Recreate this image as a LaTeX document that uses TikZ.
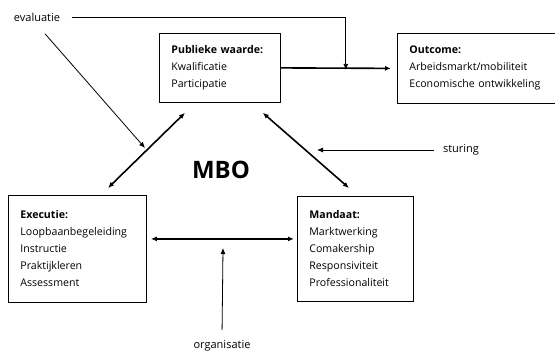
\documentclass[tikz,border=0pt]{standalone}
\usepackage{fontspec}
\setmainfont{Open Sans}
\usetikzlibrary{arrows.meta}
\tikzset{
  box/.style={draw, line width=0.8pt, align=left, inner xsep=12pt, anchor=north west,
    font=\fontsize{10.6}{17}\selectfont},
  lbl/.style={font=\fontsize{11}{12}\selectfont},
  thin/.style={line width=0.8pt, -{Latex[length=6pt,width=5pt]}},
  thick/.style={line width=1.6pt, -{Latex[length=6pt,width=5pt]}},
  dbl/.style={line width=1.6pt, {Latex[length=6pt,width=5pt]}-{Latex[length=6pt,width=5pt]}}
}
\begin{document}
\begin{tikzpicture}[x=1pt,y=-1pt]
      \useasboundingbox (0,0) rectangle (555,353);
      \node[box, minimum width=121pt, minimum height=69pt, text width=97pt] (pw) at (159,33)
        {\textbf{Publieke waarde:}\\Kwalificatie\\Participatie};
      \node[box, minimum width=156pt, minimum height=70pt, text width=136pt] (oc) at (397,33)
        {\textbf{Outcome:}\\Arbeidsmarkt/mobiliteit\\Economische ontwikkeling};
      \node[box, minimum width=138pt, minimum height=107pt, text width=114pt] (ex) at (8,195)
        {\textbf{Executie:}\\Loopbaanbegeleiding\\Instructie\\Praktijkleren\\Assessment};
      \node[box, minimum width=116pt, minimum height=105pt, text width=92pt] (md) at (297,196)
        {\textbf{Mandaat:}\\Marktwerking\\Comakership\\Responsiviteit\\Professionaliteit};
      \node[font=\fontsize{24}{30}\selectfont\bfseries] (mbo) at (221,170) {MBO};
      \node[lbl] (ev) at (37,17) {evaluatie};
      \node[lbl] (st) at (461,150) {sturing};
      \node[lbl] (org) at (222,346) {organisatie};
      \coordinate (evend) at (145,148);
      \coordinate (stend) at (317,150);
      \coordinate (orgend) at (223,248);
      \begin{scope}
        \draw[thick, shorten >=6pt] (pw.east) -- (oc.west);
        \draw[thin, shorten <=8pt, shorten >=1pt] (ev.east) -| ([xshift=65pt,yshift=-3pt]pw.east);
        \draw[thin] ([shift={(8,9)}]ev.south) -- (evend);
        \draw[thin, shorten <=6pt] (st.west) -- (stend);
        \draw[thin, shorten <=7pt] (org.north) -- (orgend);
        \draw[dbl] ([shift={(26,10)}]pw.south west) -- ([shift={(100,-7)}]ex.north west);
        \draw[dbl] ([shift={(-18,10)}]pw.south east) -- ([shift={(52,-8)}]md.north west);
        \draw[dbl, shorten <=4pt, shorten >=3pt] ([yshift=10pt]ex.east) -- ([yshift=10pt]ex.east -| md.west);
      \end{scope}
\end{tikzpicture}
\end{document}
